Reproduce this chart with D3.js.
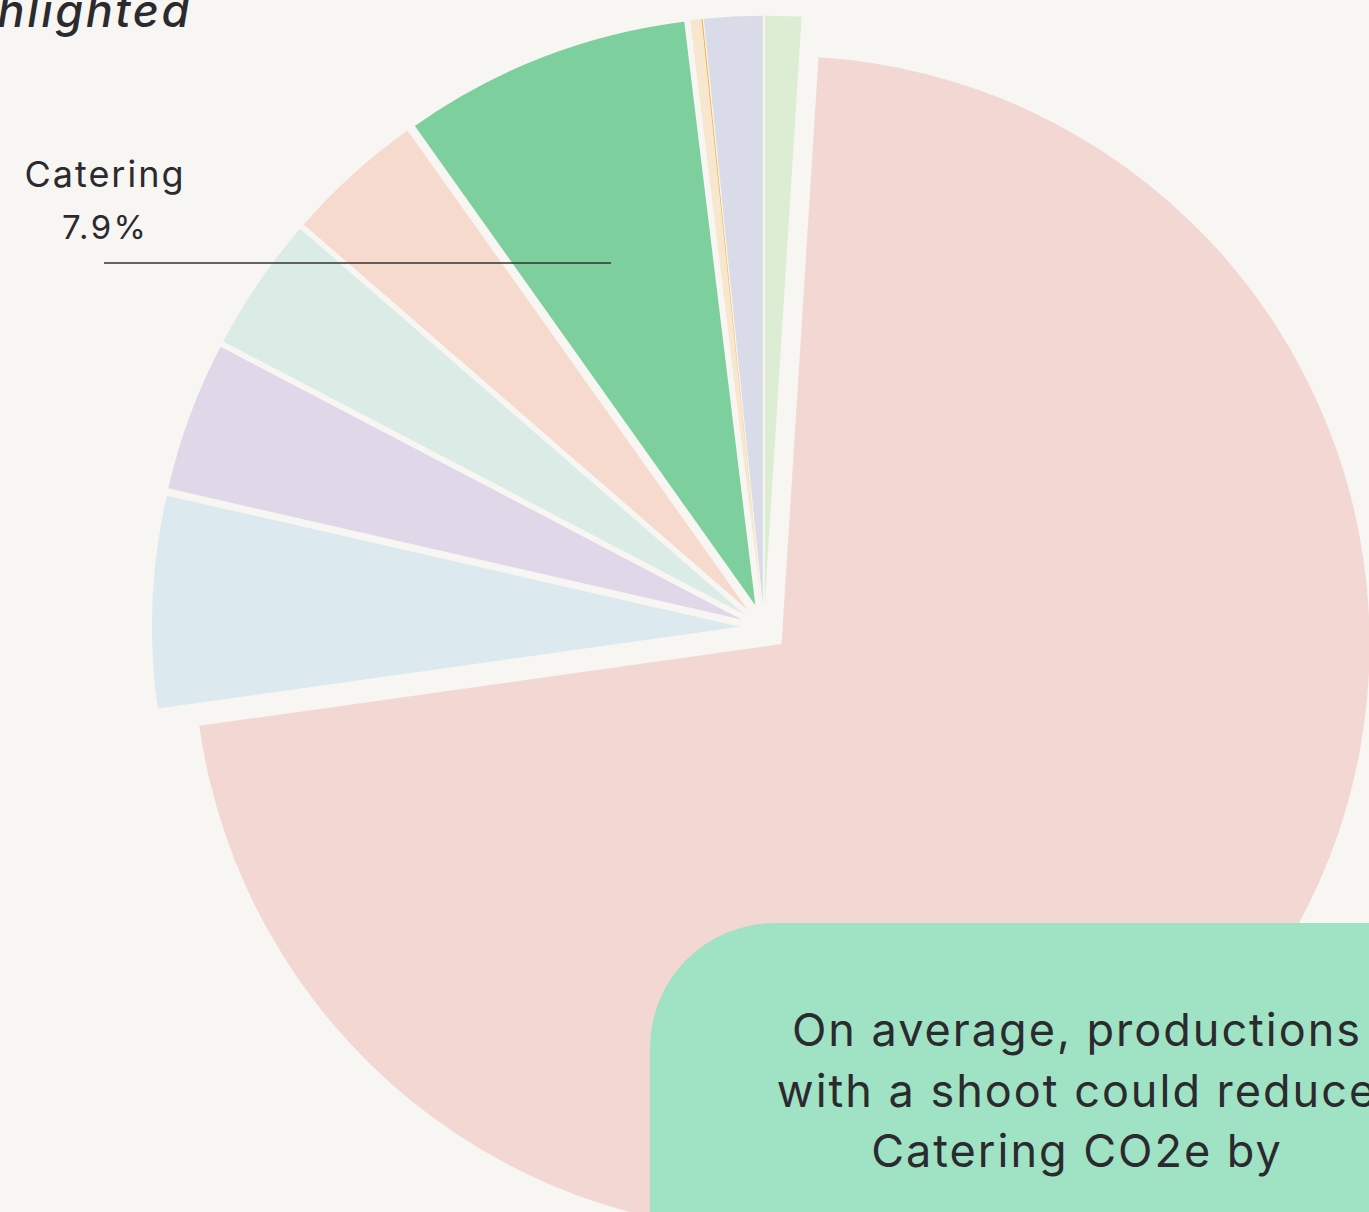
<!DOCTYPE html>
<html>
<head>
<meta charset="utf-8">
<script src="https://cdn.jsdelivr.net/npm/d3@7"></script>
<style>
  html, body { margin: 0; padding: 0; background: #f7f6f2; overflow: hidden; }
  svg { display: block; font-family: Inter, "Open Sans", sans-serif; }
</style>
</head>
<body>
<svg id="chart"></svg>
<script>
// slice order follows the pie, clockwise from 12 o'clock
const categories = ["cat1", "cat2", "cat3", "cat4", "cat5", "cat6", "Catering", "cat8", "cat9", "cat10"];
const shares     = [1.0, 71.8, 5.8, 4.1, 3.7, 3.8, 7.9, 0.3, 0.03, 1.6];
const colours    = ["#dcedd3", "#f2d7d3", "#dce9ee", "#e0d7e8", "#dbebe6", "#f6dace", "#7ecf9e", "#f8e6cf", "#f2b447", "#d9dbe9"];
const highlight  = "Catering";
const titleText  = "highlighted";
const boxLines   = ["On average, productions", "with a shoot could reduce", "Catering CO2e by"];

// Chart config
const width = 1369, height = 1212;
const cx = 764, cy = 627.7;
const radius = 588;
const explode = 24;
const ink = "#2b2a2e";

const svg = d3.select("#chart")
  .attr("width", width)
  .attr("height", height);

svg.append("rect")
  .attr("width", width).attr("height", height)
  .attr("fill", "#f7f6f2");

const data = categories.map((c, i) => ({ name: c, value: shares[i], colour: colours[i] }));

const pie = d3.pie().sort(null).value(d => d.value);
const arc = d3.arc().innerRadius(0).outerRadius(radius);
const arcs = pie(data);

const g = svg.append("g").attr("transform", `translate(${cx},${cy})`);

g.selectAll("path.slice")
  .data(arcs)
  .join("path")
    .attr("class", "slice")
    .attr("d", arc)
    .attr("fill", d => d.data.colour)
    .attr("transform", d => {
      const mid = (d.startAngle + d.endAngle) / 2;
      return `translate(${explode * Math.sin(mid)},${-explode * Math.cos(mid)})`;
    });

// label for the highlighted slice
const hi = arcs.find(d => d.data.name === highlight);
const pointArc = d3.arc().innerRadius(396).outerRadius(396);
const [px] = pointArc.centroid(hi);
const pct = (hi.value / d3.sum(data, d => d.value) * 100).toFixed(1) + "%";

const lineY = 263, labelX = 104;
svg.append("line")
  .attr("x1", labelX).attr("x2", cx + px - 10)
  .attr("y1", lineY).attr("y2", lineY)
  .attr("stroke", "#333")
  .attr("stroke-width", 1.5);

svg.append("text")
  .attr("x", labelX + 1).attr("y", 187)
  .attr("text-anchor", "middle")
  .attr("font-size", 36)
  .attr("letter-spacing", 2)
  .attr("fill", ink)
  .text(highlight);

svg.append("text")
  .attr("x", labelX + 1.2).attr("y", 239)
  .attr("text-anchor", "middle")
  .attr("font-size", 33)
  .attr("letter-spacing", 2.4)
  .attr("fill", ink)
  .text(pct);

// title (cut by the frame)
svg.append("text")
  .attr("x", 192).attr("y", 27)
  .attr("text-anchor", "end")
  .attr("font-size", 45)
  .attr("letter-spacing", 2.6)
  .attr("font-style", "italic")
  .attr("font-weight", 500)
  .attr("fill", ink)
  .text(titleText);

// callout box
svg.append("rect")
  .attr("x", 650).attr("y", 923)
  .attr("width", 900).attr("height", 500)
  .attr("rx", 125).attr("ry", 125)
  .attr("fill", "#9fe2c4");

svg.append("g")
  .selectAll("text")
  .data(boxLines)
  .join("text")
    .attr("x", 1077)
    .attr("y", (d, i) => 1046 + i * 60.5)
    .attr("text-anchor", "middle")
    .attr("font-size", 45)
    .attr("letter-spacing", 2)
    .attr("fill", ink)
    .text(d => d);
</script>
</body>
</html>
